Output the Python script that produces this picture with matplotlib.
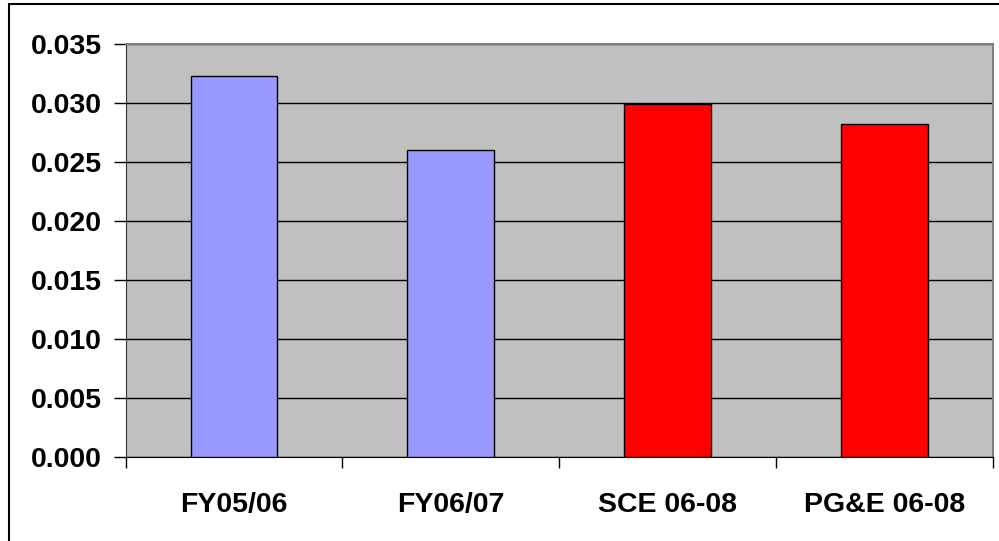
import matplotlib.pyplot as plt
from matplotlib.patches import Rectangle

kategori = ['FY05/06', 'FY06/07', 'SCE 06-08', 'PG&E 06-08']
nilai = [0.0323, 0.0260, 0.0299, 0.0282]
warna = ['#9999FF', '#9999FF', '#FF0000', '#FF0000']
yticks = [0.000, 0.005, 0.010, 0.015, 0.020, 0.025, 0.030, 0.035]

plt.rcParams['font.family'] = ['Liberation Sans', 'DejaVu Sans']

fig = plt.figure(figsize=(9.99, 5.41), dpi=100)
ax = fig.add_axes([0.1258, 0.1547, 0.9937 - 0.1258, 0.9187 - 0.1547])
ax.set_facecolor('#C0C0C0')

x = list(range(len(kategori)))
ax.bar(x, nilai, width=0.4, color=warna, edgecolor='black', linewidth=1, zorder=3)

ax.set_xlim(-0.5, len(kategori) - 0.5)
ax.set_ylim(0, 0.035)
ax.set_yticks(yticks)
ax.set_yticklabels(['%.3f' % v for v in yticks], fontsize=20.5, fontweight='bold')
ax.yaxis.grid(True, color='black', linewidth=1, zorder=1)
ax.set_axisbelow(True)

ax.set_xticks(x)
ax.set_xticklabels(kategori, fontsize=20.5, fontweight='bold')
ax.set_xticks([i - 0.5 for i in range(len(kategori) + 1)], minor=True)
ax.tick_params(axis='x', which='major', length=0, pad=25)
ax.tick_params(axis='x', which='minor', length=8, width=1, color='black', direction='out')
ax.tick_params(axis='y', length=9, width=1, color='black', direction='out', pad=8)

for s in ['top', 'right']:
    ax.spines[s].set_color('#808080')
    ax.spines[s].set_linewidth(1.5)
ax.spines['left'].set_color('#333333')
ax.spines['bottom'].set_color('black')

# bingkai luar
bingkai = Rectangle((9 / 999, -0.05), 1.2, 1 - 4 / 541 + 0.05, transform=fig.transFigure,
                    fill=False, edgecolor='black', linewidth=1.5)
fig.patches.append(bingkai)

fig.savefig('out.png', dpi=100)
